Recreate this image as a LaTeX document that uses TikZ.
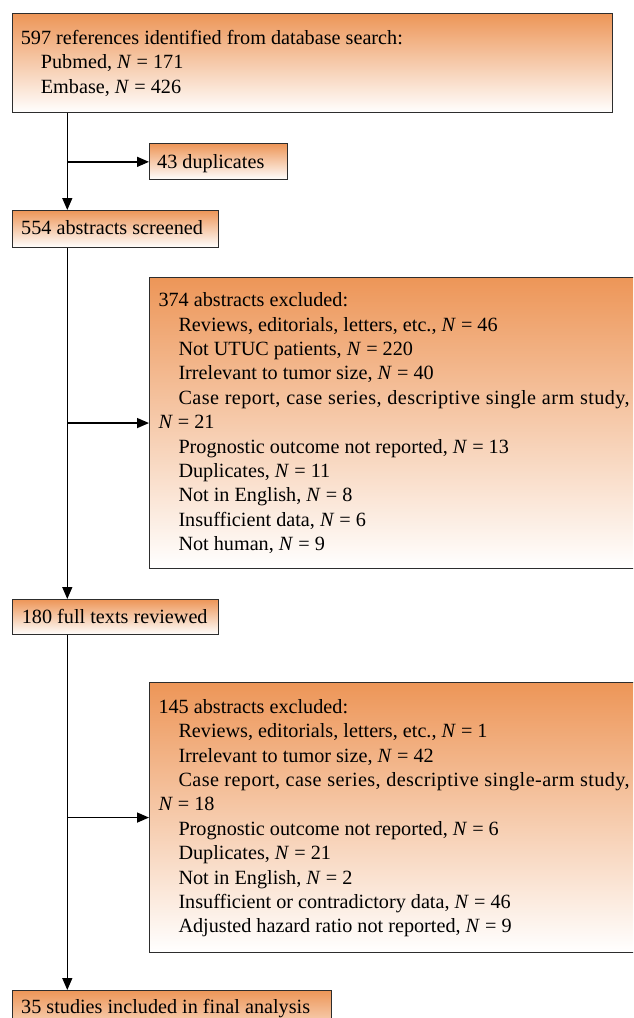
\documentclass[tikz,border=0pt]{standalone}
\usepackage{fontspec}
\setmainfont{Liberation Serif}
\usetikzlibrary{arrows.meta}
\definecolor{boxorange}{RGB}{237,150,88}
\definecolor{boxedge}{RGB}{45,45,45}
\newcommand{\ind}{\hspace*{20pt}}
\newcommand{\NN}{\textit{N}}
\newcommand{\spread}[2]{\makebox[#1][s]{\addfontfeature{LetterSpace=2.0}#2}}
\begin{document}
\begin{tikzpicture}[x=1pt,y=-1pt,
  box/.style={draw=boxedge, line width=1.1pt, top color=boxorange, bottom color=white, anchor=north west, inner sep=0pt, minimum width=#1},
  box/.default=600pt,
  txt/.style={anchor=base west, inner sep=0pt, font=\fontsize{20.2}{24.4}\selectfont},
  conn/.style={draw=black, line width=1.4pt},
  arr/.style={conn, -{Triangle[length=12pt,width=10pt]}}]
\useasboundingbox (0,0) rectangle (633,1018);
\clip (0,0) rectangle (633,1018);
\coordinate (spine) at (67.3,0);
% boxes
\node[box, minimum height=99pt] (b1) at (12,13.3) {};
\node[txt] (t1) at (20.7,44.3) {\begin{tabular}[t]{@{}l@{}}597 references identified from database search:\\
\ind Pubmed, \NN{} = 171\\
\ind Embase, \NN{} = 426\end{tabular}};
\node[box=138pt, minimum height=36pt] (dup) at (149,143.3) {};
\node[txt] (tdup) at (157,168) {43 duplicates};
\node[box=206pt, minimum height=37pt] (scr) at (12,210) {};
\node[txt] (tscr) at (21,234) {554 abstracts screened};
\node[box, minimum height=291pt] (ex1) at (149,277) {};
\node[txt] (tex1) at (158.3,306.7) {\begin{tabular}[t]{@{}l@{}}374 abstracts excluded:\\
\ind Reviews, editorials, letters, etc., \NN{} = 46\\
\ind Not UTUC patients, \NN{} = 220\\
\ind Irrelevant to tumor size, \NN{} = 40\\
\ind \spread{451pt}{Case report, case series, descriptive single arm study,}\\
\NN{} = 21\\
\ind Prognostic outcome not reported, \NN{} = 13\\
\ind Duplicates, \NN{} = 11\\
\ind Not in English, \NN{} = 8\\
\ind Insufficient data, \NN{} = 6\\
\ind Not human, \NN{} = 9\end{tabular}};
\node[box=206pt, minimum height=35.3pt] (ful) at (12,599) {};
\node[txt] (tful) at (21.7,623.3) {180 full texts reviewed};
\node[box, minimum height=269.4pt] (ex2) at (149,682.3) {};
\node[txt] (tex2) at (158.3,713.3) {\begin{tabular}[t]{@{}l@{}}145 abstracts excluded:\\
\ind Reviews, editorials, letters, etc., \NN{} = 1\\
\ind Irrelevant to tumor size, \NN{} = 42\\
\ind \spread{451pt}{Case report, case series, descriptive single-arm study,}\\
\NN{} = 18\\
\ind Prognostic outcome not reported, \NN{} = 6\\
\ind Duplicates, \NN{} = 21\\
\ind Not in English, \NN{} = 2\\
\ind Insufficient or contradictory data, \NN{} = 46\\
\ind Adjusted hazard ratio not reported, \NN{} = 9\end{tabular}};
\node[box=319pt, minimum height=60pt] (fin) at (12,990) {};
\node[txt] (tfin) at (21,1013) {35 studies included in final analysis};
% connectors
\draw[arr] (spine |- b1.south) -- (spine |- scr.north);
\draw[arr] (spine |- dup.west) -- (dup.west);
\draw[arr] (spine |- scr.south) -- (spine |- ful.north);
\draw[arr] (spine |- ex1.west) -- (ex1.west);
\draw[arr] (spine |- ful.south) -- (spine |- fin.north);
\draw[arr] (spine |- ex2.west) -- (ex2.west);
\end{tikzpicture}
\end{document}
